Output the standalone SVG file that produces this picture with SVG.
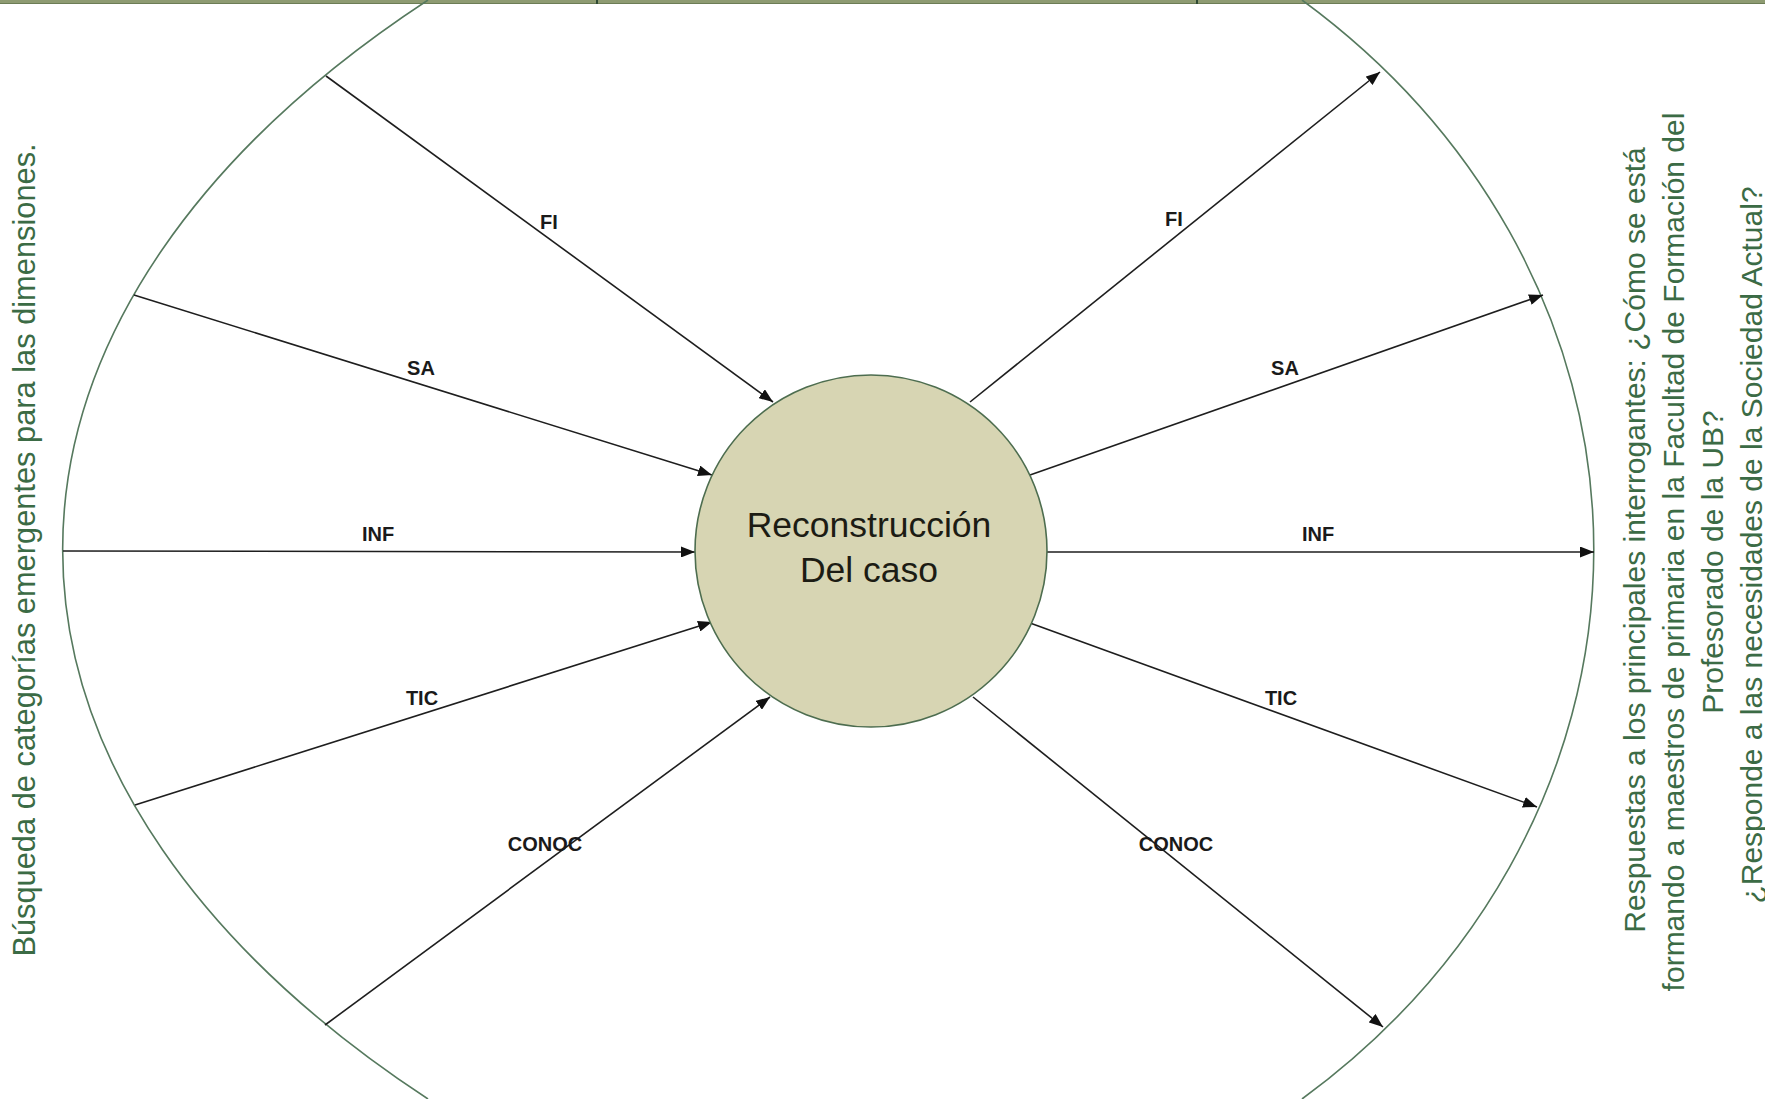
<svg xmlns="http://www.w3.org/2000/svg" width="1765" height="1099" viewBox="0 0 1765 1099">
<style>
.arc{fill:none;stroke:#56795e;stroke-width:1.6}
.con{stroke:#1e1e1e;stroke-width:1.6;fill:none}
.lbl{font-family:"Liberation Sans",Arial,sans-serif;font-weight:bold;font-size:20px;fill:#1a1a1a;text-anchor:middle}
.side{font-family:"Liberation Sans",Arial,sans-serif;font-size:30px;fill:#3b6b45;text-anchor:middle}
.ctext{font-family:"Liberation Sans",Arial,sans-serif;font-size:35.5px;fill:#1c1c14;text-anchor:middle}
</style>
<defs>
<marker id="ah" markerUnits="userSpaceOnUse" markerWidth="14" markerHeight="11" refX="14" refY="5.5" orient="auto">
<path d="M0,0 L14,5.5 L0,11 z" fill="#111"/>
</marker>
</defs>
<rect width="1765" height="1099" fill="#ffffff"/>
<g id="top-band">
<rect x="0" y="0" width="1765" height="4" fill="#8e9b72"/>
<line x1="0" y1="3.5" x2="1765" y2="3.5" stroke="#6c7d55" stroke-width="1"/>
<line x1="597" y1="0" x2="597" y2="4" stroke="#2f4a33" stroke-width="2"/>
<line x1="1197" y1="0" x2="1197" y2="4" stroke="#2f4a33" stroke-width="2"/>
</g>
<g id="boundary">
<path class="arc" d="M428,0 A1613,867 0 0 0 428,1099"/>
<path class="arc" d="M1302,0 A803.7,712.8 0 0 1 1302,1099"/>
</g>
<g id="connectors">
<line class="con" x1="326" y1="76" x2="773" y2="402" marker-end="url(#ah)"/>
<line class="con" x1="134" y1="295" x2="712" y2="475" marker-end="url(#ah)"/>
<line class="con" x1="63" y1="551" x2="695" y2="552" marker-end="url(#ah)"/>
<line class="con" x1="135" y1="805" x2="712" y2="622" marker-end="url(#ah)"/>
<line class="con" x1="325" y1="1025" x2="770" y2="697" marker-end="url(#ah)"/>
<line class="con" x1="970" y1="402" x2="1380" y2="72" marker-end="url(#ah)"/>
<line class="con" x1="1030" y1="475" x2="1543" y2="295" marker-end="url(#ah)"/>
<line class="con" x1="1047" y1="552" x2="1594" y2="552" marker-end="url(#ah)"/>
<line class="con" x1="1030" y1="623" x2="1537" y2="807" marker-end="url(#ah)"/>
<line class="con" x1="973" y1="697" x2="1383" y2="1027" marker-end="url(#ah)"/>
</g>
<g id="labels">
<text class="lbl" x="549" y="229">FI</text>
<text class="lbl" x="421" y="375">SA</text>
<text class="lbl" x="378" y="541">INF</text>
<text class="lbl" x="422" y="705">TIC</text>
<text class="lbl" x="545" y="851">CONOC</text>
<text class="lbl" x="1174" y="226">FI</text>
<text class="lbl" x="1285" y="375">SA</text>
<text class="lbl" x="1318" y="541">INF</text>
<text class="lbl" x="1281" y="705">TIC</text>
<text class="lbl" x="1176" y="851">CONOC</text>
</g>
<g id="node-center">
<circle cx="871" cy="551" r="176" fill="#d7d5b3" stroke="#4d6d4f" stroke-width="1.6"/>
<text class="ctext" x="869" y="537">Reconstrucción</text>
<text class="ctext" x="869" y="582">Del caso</text>
</g>
<g id="left-text">
<text class="side" transform="translate(35,550) rotate(-90)" style="font-size:30.8px">Búsqueda de categorías emergentes para las dimensiones.</text>
</g>
<g id="right-text">
<text class="side" transform="translate(1645,540) rotate(-90)">Respuestas a los principales interrogantes: ¿Cómo se está</text>
<text class="side" transform="translate(1684,552) rotate(-90)">formando a maestros de primaria en la Facultad de Formación del</text>
<text class="side" transform="translate(1723,562) rotate(-90)">Profesorado de la UB?</text>
<text class="side" transform="translate(1762,545) rotate(-90)">¿Responde a las necesidades de la Sociedad Actual?</text>
</g>
</svg>
